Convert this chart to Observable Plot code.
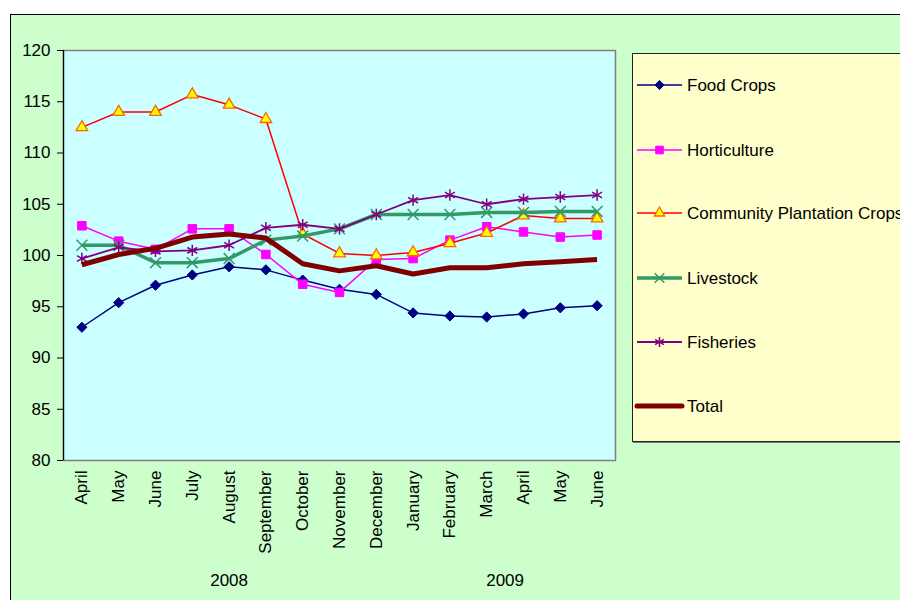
<!DOCTYPE html>
<html>
<head>
<meta charset="utf-8">
<script src="https://cdn.jsdelivr.net/npm/d3@7"></script>
<script src="https://cdn.jsdelivr.net/npm/@observablehq/plot@0.6"></script>
<style>
  html, body { margin: 0; padding: 0; background: #ffffff; width: 900px; height: 600px; overflow: hidden; }
  #outer { position: absolute; left: 10px; top: 14px; width: 900px; height: 600px; background: #CCFFCC; border: 1px solid #000; }
  #chart { position: absolute; left: 0; top: 0; }
  #legend { position: absolute; left: 632px; top: 53px; width: 320px; height: 387px; background: #FFFFCC; border: 1px solid #222; box-shadow: 1px 1px 0 #777; }
  #legendsvg { position: absolute; left: 0; top: 0; }
</style>
</head>
<body>
<div id="outer"></div>
<div id="chart"></div>
<div id="legend"></div>
<svg id="legendsvg" width="900" height="600"></svg>
<script>
const months = ["April","May","June","July","August","September","October","November","December","January","February","March","April","May","June"];
const years = ["2008", "2009"];
const yearFrom = [0, 9];
const yearTo = [8, 14];
const seriesNames = ["Food Crops","Horticulture","Community Plantation Crops","Livestock","Fisheries","Total"];

const foodCrops    = [93.0, 95.4, 97.1, 98.1, 98.9, 98.6, 97.6, 96.7, 96.2, 94.4, 94.1, 94.0, 94.3, 94.9, 95.1];
const horticulture = [102.9, 101.4, 100.6, 102.6, 102.6, 100.1, 97.2, 96.4, 99.6, 99.7, 101.5, 102.8, 102.3, 101.8, 102.0];
const plantation   = [112.5, 114.0, 114.0, 115.7, 114.7, 113.3, 102.1, 100.2, 100.0, 100.3, 101.2, 102.2, 103.9, 103.6, 103.6];
const livestock    = [101.0, 101.0, 99.3, 99.3, 99.7, 101.5, 101.9, 102.6, 104.0, 104.0, 104.0, 104.2, 104.2, 104.3, 104.3];
const fisheries    = [99.7, 100.8, 100.4, 100.5, 101.0, 102.7, 103.0, 102.6, 104.0, 105.4, 105.9, 105.0, 105.5, 105.7, 105.9];
const total        = [99.1, 100.1, 100.7, 101.8, 102.1, 101.7, 99.2, 98.5, 99.0, 98.2, 98.8, 98.8, 99.2, 99.4, 99.6];

const yTicks = [80, 85, 90, 95, 100, 105, 110, 115, 120];

const styles = [
  {line: "#000080", width: 1.5, symbol: "diamond2", fill: "#000080", stroke: "#000080", r: 4.6, sw: 1},
  {line: "#FF00FF", width: 1.5, symbol: "square", fill: "#FF00FF", stroke: "#FF00FF", r: 4.8, sw: 1},
  {line: "#FF0000", width: 1.5, symbol: "triangle", fill: "#FFFF00", stroke: "#FF6600", r: 4.3, sw: 1.3},
  {line: "#339966", width: 3.5, symbol: "times", fill: "none", stroke: "#339966", r: 5.0, sw: 1.5},
  {line: "#800080", width: 1.8, symbol: "asterisk", fill: "none", stroke: "#800080", r: 5.4, sw: 1.5},
  {line: "#800000", width: 5, symbol: null}
];
const allSeries = [foodCrops, horticulture, plantation, livestock, fisheries, total];

const rows = [];
allSeries.forEach((vals, s) => vals.forEach((v, i) => rows.push({s, i, v})));

const marks = [Plot.frame({fill: "#CCFFFF", stroke: "#808080", strokeWidth: 1.5})];
allSeries.forEach((vals, s) => {
  const st = styles[s];
  const data = rows.filter(d => d.s === s);
  marks.push(Plot.line(data, {x: "i", y: "v", stroke: st.line, strokeWidth: st.width, strokeLinejoin: "round", strokeLinecap: "butt"}));
  if (st.symbol) {
    marks.push(Plot.dot(data, {x: "i", y: "v", symbol: () => st.symbol, fill: st.fill, stroke: st.stroke, strokeWidth: st.sw, r: st.r}));
  }
});

const chart = Plot.plot({
  width: 900,
  height: 600,
  marginLeft: 63,
  marginRight: 285,
  marginTop: 50,
  marginBottom: 140,
  style: {background: "transparent", fontFamily: "'Liberation Sans', Arial, sans-serif", color: "#000", overflow: "visible"},
  x: {domain: [-0.5, 14.5]},
  y: {domain: [80, 120]},
  symbol: {type: "identity"},
  marks: [
    ...marks,
    Plot.ruleX([-0.5], {stroke: "#000", strokeWidth: 1.2}),
    Plot.axisY({ticks: yTicks, tickSize: 6, tickPadding: 7, fontSize: 17, tickFormat: d => String(d), stroke: "#000", label: null}),
    Plot.axisX({ticks: d3.range(months.length), tickFormat: i => months[i], tickRotate: -90, tickSize: 0, tickPadding: 10, fontSize: 17, label: null}),
    Plot.text(years, {x: (d, k) => (yearFrom[k] + yearTo[k]) / 2, frameAnchor: "bottom", dy: 125, text: d => d, fontSize: 17})
  ]
});
document.getElementById("chart").appendChild(chart);

// Legend
const lg = d3.select("#legendsvg");
const legendY = [85, 150, 213, 278, 342, 406];
const symbolMap = {diamond2: d3.symbolDiamond2, square: d3.symbolSquare, triangle: d3.symbolTriangle, times: d3.symbolTimes, asterisk: d3.symbolAsterisk};
seriesNames.forEach((name, s) => {
  const st = styles[s];
  const y = legendY[s];
  lg.append("line").attr("x1", 637).attr("x2", 682).attr("y1", y).attr("y2", y)
    .attr("stroke", st.line).attr("stroke-width", st.width).attr("stroke-linecap", s === 5 ? "round" : "butt");
  if (st.symbol) {
    const size = st.r * st.r * Math.PI * 0.8;
    lg.append("path").attr("transform", `translate(659.5,${y})`)
      .attr("d", d3.symbol(symbolMap[st.symbol], size)())
      .attr("fill", st.fill).attr("stroke", st.stroke).attr("stroke-width", st.sw);
  }
  lg.append("text").attr("x", 687).attr("y", y).attr("dy", "0.35em")
    .attr("font-family", "'Liberation Sans', Arial, sans-serif").attr("font-size", 17)
    .attr("fill", "#000").text(name);
});
</script>
</body>
</html>
